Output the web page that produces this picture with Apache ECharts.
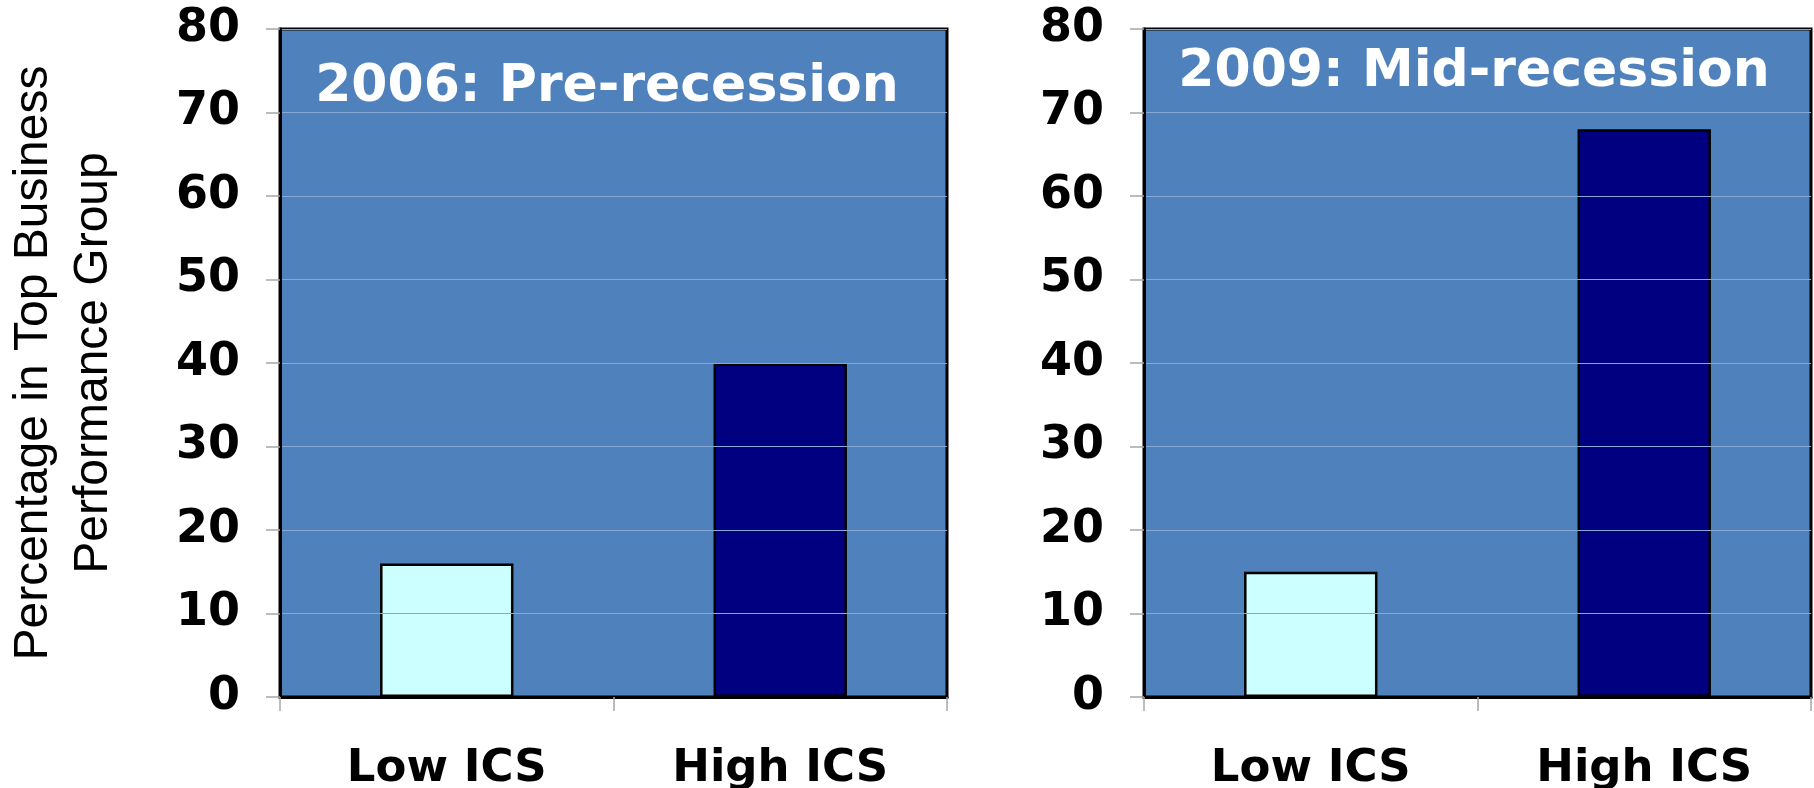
<!DOCTYPE html>
<html>
<head>
<meta charset="utf-8">
<title>ICS and Top Business Performance</title>
<script src="https://cdn.jsdelivr.net/npm/echarts@6/dist/echarts.min.js"></script>
<style>
  html, body { margin: 0; padding: 0; background: #ffffff; }
  #chart { width: 1814px; height: 788px; }
</style>
</head>
<body>
<div id="chart"></div>
<script>
// Groups compared in each panel
const categories = ['Low ICS', 'High ICS'];
// Percentage of firms in the top business performance group
const values2006 = [16, 40];
const values2009 = [15, 68];
// Panel headings
const panelTitles = ['2006: Pre-recession', '2009: Mid-recession'];
// Value axis range
const yMin = 0;
const yMax = 80;
const yStep = 10;
const yAxisTitle = 'Percentage in Top Business\nPerformance Group';

const barColors = ['#ccffff', '#000080'];
const plotBg = '#4f81bd';
const boldFont = '"DejaVu Sans", Verdana, sans-serif';

const chart = echarts.init(document.getElementById('chart'), null, { renderer: 'canvas' });

const grids = [
  { left: 280, top: 29, width: 667, height: 668 },
  { left: 1144, top: 29, width: 667, height: 668 }
];

function makeX(gridIndex) {
  return {
    type: 'category',
    gridIndex: gridIndex,
    data: categories,
    boundaryGap: true,
    axisLine: { show: true, lineStyle: { color: '#000', width: 3 } },
    axisTick: { show: true, length: 14, lineStyle: { color: '#a6a6a6', width: 1.5 } },
    axisLabel: {
      margin: 50,
      color: '#000',
      fontFamily: boldFont,
      fontWeight: 'bold',
      fontSize: 45
    },
    z: 5
  };
}

function makeY(gridIndex, withName) {
  const y = {
    type: 'value',
    gridIndex: gridIndex,
    min: yMin,
    max: yMax,
    interval: yStep,
    axisLine: { show: true, lineStyle: { color: '#000', width: 3 } },
    axisTick: { show: true, length: 14, lineStyle: { color: '#a6a6a6', width: 1.5 } },
    axisLabel: {
      margin: 40,
      color: '#000',
      fontFamily: boldFont,
      fontWeight: 'bold',
      fontSize: 46
    },
    splitLine: { show: true, lineStyle: { color: '#86a8d3', width: 1.2 } },
    z: 5
  };
  if (withName) {
    y.name = yAxisTitle;
    y.nameLocation = 'middle';
    y.nameRotate = 90;
    y.nameGap = 156;
    y.nameTextStyle = {
      fontFamily: '"Liberation Sans", Arial, sans-serif',
      fontSize: 48,
      lineHeight: 60,
      color: '#000'
    };
  }
  return y;
}

function makeBars(values, idx) {
  return {
    type: 'bar',
    xAxisIndex: idx,
    yAxisIndex: idx,
    barWidth: '40%',
    data: values.map((v, i) => ({
      value: v,
      itemStyle: { color: barColors[i], borderColor: '#000', borderWidth: 2.5 }
    })),
    z: 3
  };
}

const option = {
  backgroundColor: '#ffffff',
  animation: false,
  grid: grids.map(g => Object.assign({
    show: true,
    backgroundColor: plotBg,
    borderColor: '#000',
    borderWidth: 3,
    containLabel: false,
    outerBoundsMode: 'none'
  }, g)),
  xAxis: [makeX(0), makeX(1)],
  yAxis: [makeY(0, true), makeY(1, false)],
  series: [makeBars(values2006, 0), makeBars(values2009, 1)],
  graphic: [
    {
      type: 'text',
      x: 607, y: 87,
      z: 10,
      style: {
        text: panelTitles[0],
        fill: '#ffffff',
        font: 'bold 52px ' + boldFont,
        textAlign: 'center',
        textVerticalAlign: 'middle'
      }
    },
    {
      type: 'text',
      x: 1474, y: 72,
      z: 10,
      style: {
        text: panelTitles[1],
        fill: '#ffffff',
        font: 'bold 52px ' + boldFont,
        textAlign: 'center',
        textVerticalAlign: 'middle'
      }
    }
  ]
};

chart.setOption(option);
</script>
</body>
</html>
